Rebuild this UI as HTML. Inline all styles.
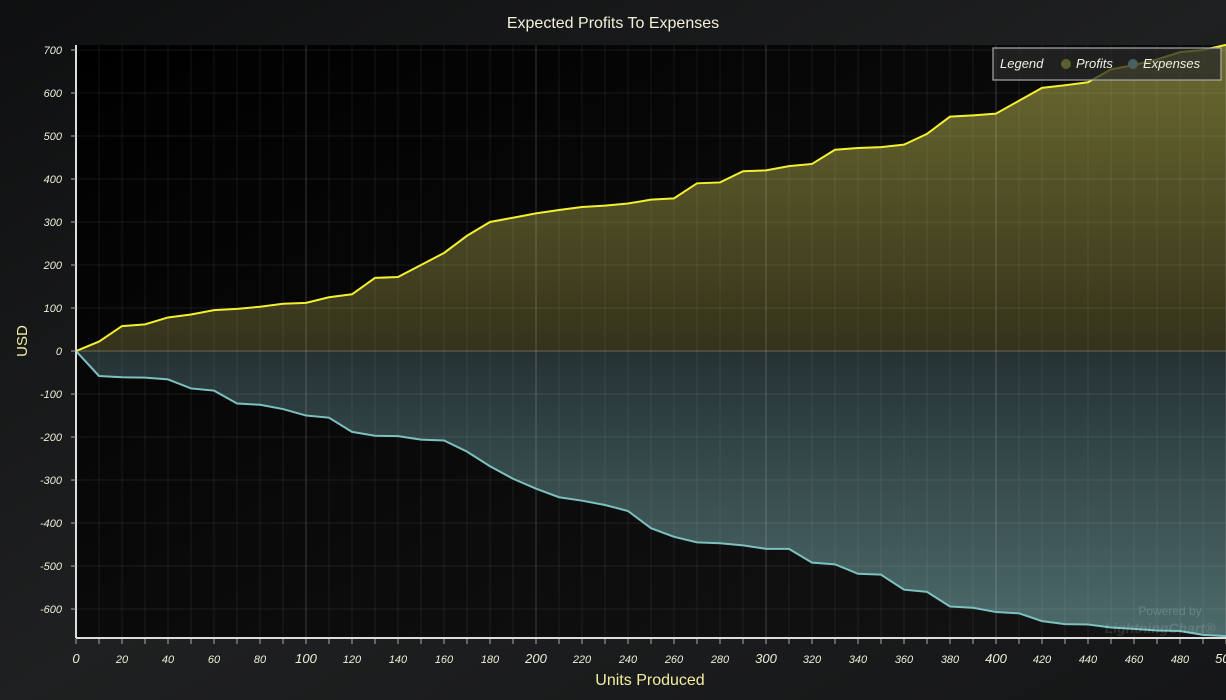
<!DOCTYPE html>
<html><head><meta charset="utf-8"><style>
html,body{margin:0;padding:0;background:#151617;}
svg{display:block;font-family:"Liberation Sans",sans-serif;}
</style></head><body>
<svg id="chart" width="1226" height="700" xmlns="http://www.w3.org/2000/svg">
<defs>
<linearGradient id="bg" x1="0" y1="0" x2="1" y2="1"><stop offset="0" stop-color="#0e0f10"/><stop offset="0.5" stop-color="#1f2021"/><stop offset="1" stop-color="#151617"/></linearGradient>
<linearGradient id="plotbg" x1="0" y1="0" x2="1" y2="1"><stop offset="0" stop-color="#000"/><stop offset="1" stop-color="#141414"/></linearGradient>
<linearGradient id="pf" x1="0" y1="0" x2="0" y2="1"><stop offset="0" stop-color="#6c6b30"/><stop offset="1" stop-color="#34321a"/></linearGradient>
<linearGradient id="ef" x1="0" y1="0" x2="0" y2="1"><stop offset="0" stop-color="#253234"/><stop offset="1" stop-color="#4d6b6b"/></linearGradient>
</defs>
<rect width="1226" height="700" fill="url(#bg)"/>
<text x="613" y="28" text-anchor="middle" font-size="16" fill="#f2f0d8">Expected Profits To Expenses</text>
<g id="plot"></g>
<text transform="translate(27,341) rotate(-90)" text-anchor="middle" font-size="15" fill="#f2eda0">USD</text>
<text x="650" y="685" text-anchor="middle" font-size="16" fill="#f2eda0">Units Produced</text>
<g>
<rect x="993" y="48" width="228" height="32" fill="rgba(40,40,40,0.75)" stroke="#aaa" stroke-width="1.2"/>
<text x="1000" y="68" font-size="13" font-style="italic" fill="#f0f0e0">Legend</text>
<g><circle cx="1066" cy="64" r="5" fill="#5f5e2e"/><text x="1076" y="68" font-size="13" font-style="italic" fill="#f0f0e0">Profits</text></g>
<g><circle cx="1133" cy="64" r="5" fill="#4a6060"/><text x="1143" y="68" font-size="13" font-style="italic" fill="#f0f0e0">Expenses</text></g>
</g>
<text x="1170" y="615" text-anchor="middle" font-size="12" fill="rgba(255,255,255,0.18)">Powered by</text>
<text x="1160" y="633" text-anchor="middle" font-size="14" font-style="italic" font-weight="bold" fill="rgba(255,255,255,0.12)">LightningChart®</text>
</svg>
<script>
const xValues=[0,10,20,30,40,50,60,70,80,90,100,110,120,130,140,150,160,170,180,190,200,210,220,230,240,250,260,270,280,290,300,310,320,330,340,350,360,370,380,390,400,410,420,430,440,450,460,470,480,490,500];
const profits=[0,22,58,62,78,85,95,98,103,110,112,125,132,170,172,200,228,268,300,310,320,328,335,338,343,352,355,390,392,418,420,430,435,468,472,474,480,505,545,548,552,582,612,618,625,655,665,678,695,700,712];
const expenses=[0,-58,-61,-62,-66,-87,-92,-122,-125,-135,-150,-155,-188,-197,-198,-206,-208,-234,-268,-297,-320,-340,-348,-358,-372,-412,-432,-445,-447,-452,-460,-460,-492,-496,-518,-520,-555,-560,-594,-597,-607,-610,-628,-635,-636,-643,-646,-650,-651,-660,-663];
const yTicks=[700,600,500,400,300,200,100,0,-100,-200,-300,-400,-500,-600];
const xTicks=[0,20,40,60,80,100,120,140,160,180,200,220,240,260,280,300,320,340,360,380,400,420,440,460,480,500];

const L=76,R=1226,T=45,B=637,xMin=0,xMax=500,yMin=-665,yMax=711.6;
const sx=v=>L+(v-xMin)/(xMax-xMin)*(R-L);
const sy=v=>B-(v-yMin)/(yMax-yMin)*(B-T);
const NS="http://www.w3.org/2000/svg";
const plot=document.getElementById('plot');
function mk(tag,attrs,parent){const e=document.createElementNS(NS,tag);for(const k in attrs)e.setAttribute(k,attrs[k]);(parent||plot).appendChild(e);return e;}

const bgR=mk('rect',{x:L,y:T,width:R-L,height:B-T,fill:'url(#plotbg)'});



function areaPath(vals){
  let d='M'+sx(xValues[0])+','+sy(0);
  vals.forEach((v,i)=>{d+=' L'+sx(xValues[i])+','+sy(v);});
  d+=' L'+sx(xValues[xValues.length-1])+','+sy(0)+' Z';return d;
}
function linePath(vals){return vals.map((v,i)=>(i?'L':'M')+sx(xValues[i])+','+sy(v)).join(' ');}

const pa=mk('path',{d:areaPath(profits),fill:'url(#pf)'});


const ea=mk('path',{d:areaPath(expenses),fill:'url(#ef)'});



for(let v=0;v<=500;v+=10){
  const major=v%100===0;
  const g=mk('line',{x1:sx(v),x2:sx(v),y1:T,y2:B,stroke:major?'rgba(255,255,255,0.2)':'rgba(255,255,255,0.07)','stroke-width':1});
  
  
}
yTicks.forEach(v=>{
  const g=mk('line',{x1:L,x2:R,y1:sy(v),y2:sy(v),stroke:'rgba(255,255,255,0.08)','stroke-width':1});
  
  
});

const pl=mk('path',{d:linePath(profits),fill:'none',stroke:'#f4f030','stroke-width':2});


const el=mk('path',{d:linePath(expenses),fill:'none',stroke:'#7cc0c0','stroke-width':2});


const zl=mk('line',{x1:L,x2:R,y1:sy(0),y2:sy(0),stroke:'rgba(180,180,120,0.35)','stroke-width':1});



const ya=mk('line',{x1:L,x2:L,y1:T,y2:B+1,stroke:'#ddd','stroke-width':2});


const xa=mk('line',{x1:L,x2:R,y1:B+1,y2:B+1,stroke:'#ddd','stroke-width':2});



yTicks.forEach(v=>{
  mk('line',{x1:L-5,x2:L,y1:sy(v),y2:sy(v),stroke:'#aaa'});
  const t=mk('text',{x:L-14,y:sy(v)+4,'text-anchor':'end','font-size':11,'font-style':'italic',fill:'#eeeed8'});
  t.textContent=v;
  
  
});
for(let v=0;v<=500;v+=10){mk('line',{x1:sx(v),x2:sx(v),y1:B+2,y2:B+7,stroke:'#aaa'});}
xTicks.forEach(v=>{
  const major=v%100===0;
  const t=mk('text',{x:sx(v),y:663,'text-anchor':'middle','font-size':major?13:11,'font-style':'italic',fill:'#eeeed8'});
  t.textContent=v;
  
  
});
</script>
</body></html>
